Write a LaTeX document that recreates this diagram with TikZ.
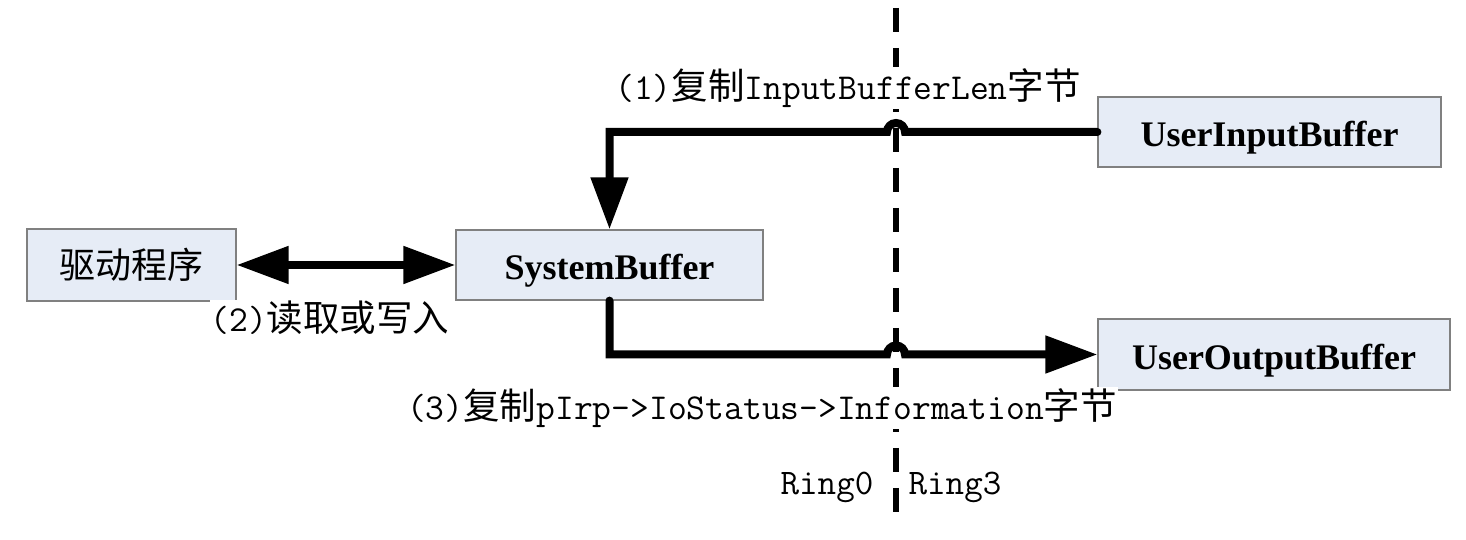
\documentclass[tikz,border=0pt]{standalone}
\usepackage{fontspec}
\usetikzlibrary{arrows.meta}
\newfontfamily\cjk{Noto Sans CJK SC}
\newfontfamily\tnr{Liberation Serif}
\definecolor{boxfill}{RGB}{230,236,246}
\definecolor{boxline}{RGB}{128,128,128}
\begin{document}
\begin{tikzpicture}[x=1pt,y=1pt,
  box/.style={draw=boxline,line width=1.2pt,fill=boxfill,inner sep=0pt},
  boxtext/.style={font=\tnr\bfseries\fontsize{36}{40}\selectfont,text depth=0pt,text height=30pt},
  zhtext/.style={font=\cjk\fontsize{36}{40}\selectfont},
  lab/.style={fill=white,inner sep=1pt,font=\ttfamily\fontsize{36.5}{40}\selectfont},
  ringlab/.style={inner sep=1pt,font=\ttfamily\fontsize{36}{40}\selectfont},
  conn/.style={line width=8pt,line cap=round,line join=miter},
  tip/.style={-{Triangle[length=52pt,width=36pt]}},
  divider/.style={line width=6pt,dash pattern=on 24pt off 16pt}]
\useasboundingbox (0,0) rectangle (1466,540);
\fill[white] (0,0) rectangle (1466,540);
% divider
\coordinate (dtop) at (896,532);
\coordinate (dbot) at (896,15);
\draw[divider] (dtop) -- (dbot);
% boxes
\node[box,zhtext,minimum width=209pt,minimum height=72pt] (drv) at (131.5,275) {驱动程序};
\node[box,boxtext,minimum width=307pt,minimum height=70pt] (sys) at (609.5,275) {SystemBuffer};
\node[box,boxtext,minimum width=343pt,minimum height=70pt] (uin) at (1269.5,408) {UserInputBuffer};
\node[box,boxtext,minimum width=352pt,minimum height=71pt] (uout) at (1274,185.5) {UserOutputBuffer};
% crossings
\coordinate (h1) at (dtop |- uin.west);
\coordinate (h2) at (dtop |- uout.west);
% connectors
\draw[conn,tip] (uin.west) -- ([xshift=9pt]h1) arc[start angle=0,end angle=180,radius=9pt]
  -- (sys.north |- uin.west) -- (sys.north);
\draw[conn,tip] (sys.south) -- (sys.south |- uout.west) -- ([xshift=-9pt]h2)
  arc[start angle=180,end angle=0,radius=9pt] -- (uout.west);
\draw[line width=8pt,{Triangle[length=52pt,width=36pt]}-{Triangle[length=52pt,width=36pt]}] (drv.east) -- (sys.west);
% labels
\node[lab] (l1) at (848,452) {(1){\cjk 复制}InputBufferLen{\cjk 字节}};
\node[lab] (l2) at (330,222) {(2){\cjk 读取或写入}};
\node[lab] (l3) at (762,132) {(3){\cjk 复制}pIrp->IoStatus->Information{\cjk 字节}};
\node[ringlab] (r0) at (827,53) {Ring0};
\node[ringlab] (r3) at (955,53) {Ring3};
\end{tikzpicture}
\end{document}
